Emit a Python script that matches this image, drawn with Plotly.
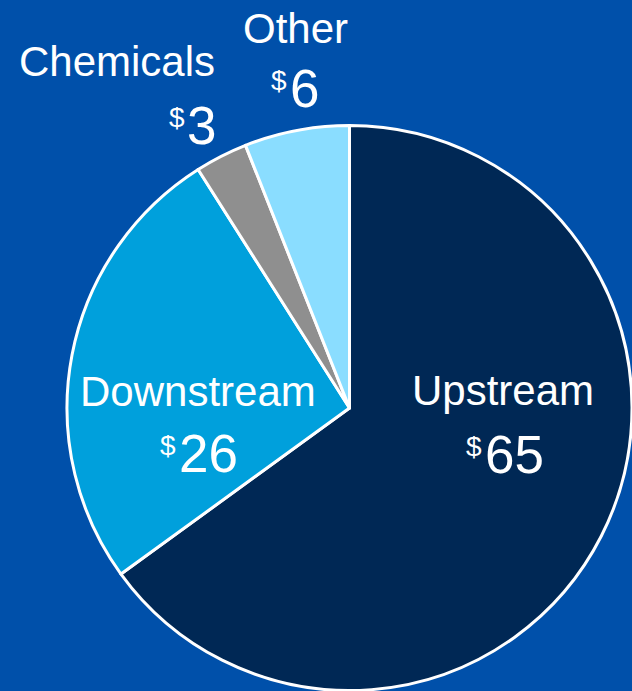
import plotly.graph_objects as go

labels = ["Upstream", "Downstream", "Chemicals", "Other"]
values = [65, 26, 3, 6]
colors = ["#002855", "#00A0DC", "#8F8F8F", "#8ADDFF"]

W, H = 632, 691
BG = "#0050AA"
FONT = "Liberation Sans, Arial, sans-serif"

fig = go.Figure(go.Pie(
    labels=labels, values=values, sort=False, direction="clockwise", rotation=0,
    marker=dict(colors=colors, line=dict(color="white", width=3)),
    textinfo="none", hoverinfo="label+value", showlegend=False,
    domain=dict(x=[67 / W, 1.0], y=[0.0, 1 - 125 / H]),
))

# label placements (pixels): name centre x, name centre y, $ right x, digits left x, number centre y
label_pos = {
    "Upstream":   (503, 390, 484, 483, 454),
    "Downstream": (198, 391, 178, 177, 453),
    "Chemicals":  (117, 61, 187, 185, 125),
    "Other":      (295, 29, 289, 288, 88),
}

def px(x, y):
    return x / W, 1 - y / H

annotations = []
for lab, val in zip(labels, values):
    nx, ny, dx, vx, vy = label_pos[lab]
    ax, ay = px(nx, ny)
    annotations.append(dict(x=ax, y=ay, xref="paper", yref="paper", text=lab,
                            showarrow=False, xanchor="center", yanchor="middle",
                            font=dict(family=FONT, size=42, color="white")))
    bx, by = px(vx, vy)
    annotations.append(dict(x=bx, y=by, xref="paper", yref="paper", text=str(val),
                            showarrow=False, xanchor="left", yanchor="middle",
                            font=dict(family=FONT, size=53, color="white")))
    cx, _ = px(dx, vy)
    annotations.append(dict(x=cx, y=by, xref="paper", yref="paper", text="$",
                            showarrow=False, xanchor="right", yanchor="middle",
                            yshift=8, font=dict(family=FONT, size=28, color="white")))

fig.update_layout(
    width=W, height=H, margin=dict(l=0, r=0, t=0, b=0),
    paper_bgcolor=BG, plot_bgcolor=BG, annotations=annotations,
)

fig.write_html("out.html", config={"displayModeBar": False},
               post_script="document.body.style.margin='0';document.body.style.background='#0050AA';")
